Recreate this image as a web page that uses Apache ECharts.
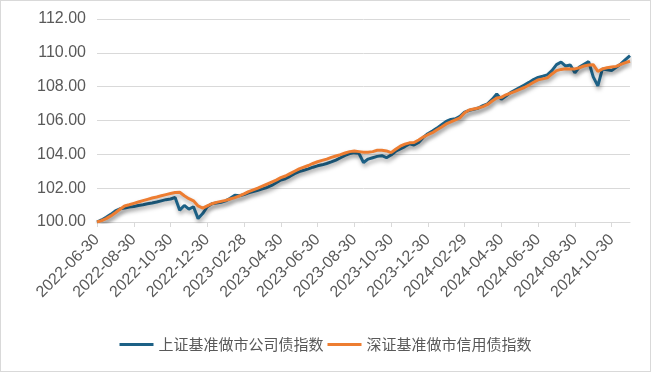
<!DOCTYPE html>
<html>
<head>
<meta charset="utf-8">
<script src="https://cdn.jsdelivr.net/npm/echarts@6/dist/echarts.min.js"></script>
<style>
html,body{margin:0;padding:0;background:#fff;}
#c{width:651px;height:372px;box-sizing:border-box;border:1px solid #d9d9d9;}
</style>
</head>
<body>
<div id="c"></div>
<script>
const dates = [
'2022-06-30','2022-07-08','2022-07-15','2022-07-22','2022-07-29','2022-08-08','2022-08-15','2022-08-22',
'2022-08-30','2022-09-08','2022-09-15','2022-09-22','2022-09-30','2022-10-12','2022-10-17','2022-10-24',
'2022-10-30','2022-11-08','2022-11-15','2022-11-22','2022-11-30','2022-12-08','2022-12-15','2022-12-22',
'2022-12-30','2023-01-09','2023-01-16','2023-01-20','2023-01-31','2023-02-08','2023-02-15','2023-02-22',
'2023-02-28','2023-03-08','2023-03-15','2023-03-22','2023-03-31','2023-04-10','2023-04-17','2023-04-24',
'2023-04-30','2023-05-08','2023-05-15','2023-05-22','2023-05-31','2023-06-08','2023-06-15','2023-06-21',
'2023-06-30','2023-07-10','2023-07-17','2023-07-24','2023-07-31','2023-08-08','2023-08-15','2023-08-22',
'2023-08-30','2023-09-08','2023-09-15','2023-09-22','2023-09-28','2023-10-10','2023-10-17','2023-10-24',
'2023-10-30','2023-11-08','2023-11-15','2023-11-22','2023-11-30','2023-12-08','2023-12-15','2023-12-22',
'2023-12-30','2024-01-08','2024-01-15','2024-01-22','2024-01-31','2024-02-08','2024-02-19','2024-02-23',
'2024-02-29','2024-03-08','2024-03-15','2024-03-22','2024-03-29','2024-04-08','2024-04-15','2024-04-22',
'2024-04-30','2024-05-08','2024-05-15','2024-05-22','2024-05-31','2024-06-07','2024-06-14','2024-06-21',
'2024-06-30','2024-07-08','2024-07-15','2024-07-22','2024-07-31','2024-08-08','2024-08-15','2024-08-22',
'2024-08-30','2024-09-06','2024-09-13','2024-09-20','2024-09-27','2024-10-08','2024-10-15','2024-10-22',
'2024-10-30','2024-11-08','2024-11-15','2024-11-22','2024-11-29'
];

const seriesNames = ['上证基准做市公司债指数','深证基准做市信用债指数'];

const shCorpBond = [
100.00,100.12,100.28,100.45,100.66,100.78,100.82,100.88,
100.92,100.98,101.02,101.08,101.12,101.18,101.25,101.32,
101.36,101.45,100.70,100.98,100.76,100.90,100.20,100.50,
100.90,101.08,101.12,101.16,101.25,101.40,101.58,101.55,
101.62,101.72,101.80,101.88,101.96,102.04,102.16,102.32,
102.48,102.56,102.70,102.86,102.98,103.06,103.14,103.24,
103.32,103.38,103.46,103.55,103.66,103.80,103.94,104.04,
104.10,104.06,103.52,103.72,103.80,103.88,103.92,103.80,
103.96,104.18,104.32,104.46,104.62,104.55,104.70,105.00,
105.22,105.38,105.55,105.75,105.95,106.06,106.10,106.25,
106.50,106.60,106.66,106.74,106.88,106.98,107.25,107.57,
107.25,107.45,107.65,107.80,107.95,108.10,108.25,108.42,
108.55,108.62,108.70,108.95,109.30,109.45,109.22,109.28,
108.82,109.16,109.32,109.48,108.58,108.05,109.05,109.00,
108.95,109.14,109.35,109.60,109.84
];

const szCreditBond = [
100.00,100.08,100.20,100.36,100.55,100.75,100.95,101.02,
101.10,101.18,101.26,101.34,101.42,101.48,101.55,101.62,
101.68,101.74,101.76,101.55,101.38,101.25,100.95,100.82,
100.95,101.08,101.16,101.22,101.28,101.36,101.44,101.55,
101.66,101.80,101.90,102.00,102.12,102.24,102.36,102.48,
102.62,102.72,102.86,103.00,103.14,103.24,103.34,103.46,
103.56,103.64,103.72,103.82,103.90,103.98,104.08,104.16,
104.20,104.16,104.12,104.12,104.16,104.24,104.24,104.20,
104.10,104.30,104.48,104.60,104.68,104.70,104.85,105.02,
105.16,105.28,105.45,105.62,105.80,105.92,106.04,106.16,
106.46,106.62,106.68,106.74,106.82,106.95,107.15,107.33,
107.37,107.52,107.62,107.72,107.84,107.95,108.10,108.26,
108.40,108.46,108.52,108.75,108.95,109.02,109.06,109.05,
109.05,109.12,109.22,109.28,109.30,108.90,109.05,109.12,
109.16,109.20,109.32,109.42,109.50
];

const yMin = 100, yMax = 112, yStep = 2;

const chart = echarts.init(document.getElementById('c'), null, {renderer:'canvas'});
const lab = {color:'#595959', fontSize:16, fontFamily:'Liberation Sans, Arial, sans-serif'};
const shadow = {shadowColor:'rgba(0,0,0,0.35)', shadowBlur:4, shadowOffsetY:3, shadowOffsetX:1};
chart.setOption({
  animation:false,
  grid:{left:96, right:20, top:18, bottom:149, containLabel:false},
  legend:{
    data:seriesNames, bottom:14, left:'center',
    icon:'rect', itemWidth:34, itemHeight:3, itemGap:4,
    textStyle:{color:'#595959', fontSize:15, fontFamily:'Noto Sans CJK SC, sans-serif', padding:[0,0,0,0]}
  },
  xAxis:{
    type:'category', data:dates, boundaryGap:false,
    axisLine:{lineStyle:{color:'#d9d9d9', width:1}},
    axisTick:{show:true, interval:7, length:5, lineStyle:{color:'#d9d9d9'}},
    axisLabel:Object.assign({interval:7, rotate:45, margin:15}, lab),
    splitLine:{show:false}
  },
  yAxis:{
    type:'value', min:yMin, max:yMax, interval:yStep,
    axisLine:{show:false}, axisTick:{show:false},
    axisLabel:Object.assign({margin:11, formatter:v=>v.toFixed(2)}, lab),
    splitLine:{lineStyle:{color:'#d9d9d9', width:1}}
  },
  series:[
    {name:seriesNames[0], type:'line', data:shCorpBond, symbol:'none', smooth:false,
     lineStyle:Object.assign({color:'#1d6186', width:3}, shadow), itemStyle:{color:'#1d6186'}},
    {name:seriesNames[1], type:'line', data:szCreditBond, symbol:'none', smooth:false,
     lineStyle:Object.assign({color:'#ed7d31', width:3}, shadow), itemStyle:{color:'#ed7d31'}}
  ]
});
</script>
</body>
</html>
